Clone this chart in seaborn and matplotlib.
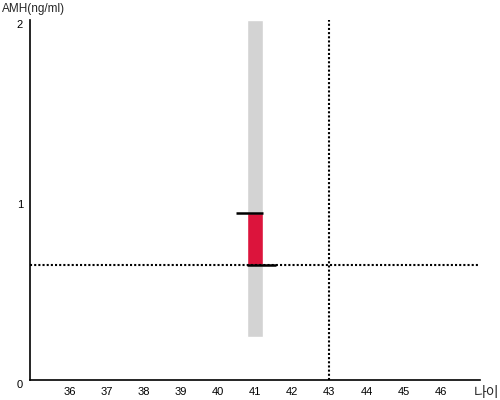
import matplotlib
matplotlib.use("Agg")
import matplotlib.pyplot as plt
import seaborn as sns

sns.set_theme(style="white")
plt.rcParams['font.family'] = ['Liberation Sans', 'Noto Sans CJK KR', 'DejaVu Sans']

# data
age = 41
band_low, band_high = 0.24, 2.0
amh_low, amh_high = 0.64, 0.93
ref_age = 43
ref_amh = 0.64
x_ticks = list(range(36, 47))
y_ticks = [0, 1, 2]

fig = plt.figure(figsize=(5, 4), dpi=100)
ax = fig.add_axes([0.06, 0.05, 0.90, 0.90])

bar_w = 0.43
ax.bar([age], [band_high - band_low], bottom=[band_low], width=bar_w,
       color="#d3d3d3", zorder=1)
ax.bar([age], [amh_high - amh_low], bottom=[amh_low], width=bar_w,
       color="#dc143c", zorder=2)
ax.hlines(amh_high, age - 0.51, age + bar_w / 2, color="black", lw=1.8, zorder=4)
ax.hlines(amh_low, age - bar_w / 2, age + 0.57, color="black", lw=1.8, zorder=4)

ax.axhline(ref_amh, color="black", lw=1.5, ls=(0, (1, 1)), zorder=3)
ax.axvline(ref_age, color="black", lw=1.5, ls=(0, (1, 1)), zorder=3)

ax.set_xlim(34.94, 47.06)
ax.set_ylim(0, 2)
ax.set_xticks(x_ticks)
ax.set_yticks(y_ticks)
ax.tick_params(axis="both", labelsize=8, length=3, width=1, colors="black",
               direction="out", pad=2)
for lbl in ax.get_yticklabels():
    lbl.set_va("top")
sns.despine(ax=ax)
for s in ("left", "bottom"):
    ax.spines[s].set_color("black")
    ax.spines[s].set_linewidth(1.2)

fig.text(0.004, 0.992, "AMH(ng/ml)", fontsize=8.5, va="top", ha="left")
fig.text(0.948, 0.0, "나이", fontsize=10, va="bottom", ha="left",
         family=["Noto Sans CJK KR", "DejaVu Sans"])

fig.savefig("out.png", dpi=100)
